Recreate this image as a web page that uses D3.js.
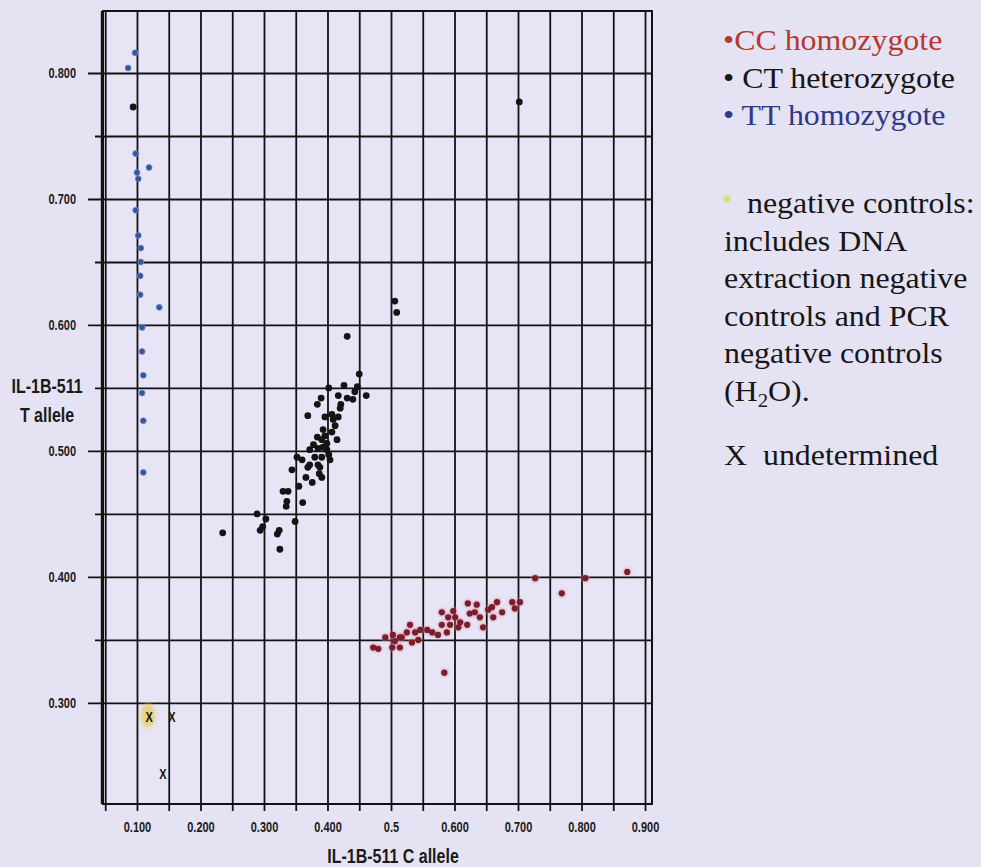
<!DOCTYPE html>
<html>
<head>
<meta charset="utf-8">
<script src="https://cdn.jsdelivr.net/npm/d3@7"></script>
<style>
  html, body { margin: 0; padding: 0; background: #e5e3f3; }
  svg { display: block; }
</style>
</head>
<body>
<svg id="chart" width="981" height="867"></svg>
<script>
// Allelic discrimination plot, IL-1B-511: C allele signal (x) vs T allele signal (y)

// CC homozygote wells
const ccX = [0.727, 0.806, 0.872, 0.769, 0.584, 0.472, 0.480, 0.491, 0.502, 0.503, 0.514, 0.517, 0.525, 0.530, 0.533, 0.538, 0.546, 0.557, 0.565, 0.574, 0.580, 0.580, 0.588, 0.590, 0.593, 0.601, 0.606, 0.609, 0.620, 0.621, 0.624, 0.632, 0.635, 0.640, 0.645, 0.653, 0.659, 0.661, 0.667, 0.675, 0.691, 0.695, 0.703, 0.543, 0.506, 0.598, 0.514];
const ccY = [0.399, 0.399, 0.404, 0.387, 0.324, 0.344, 0.343, 0.352, 0.344, 0.354, 0.344, 0.352, 0.356, 0.362, 0.348, 0.356, 0.358, 0.358, 0.356, 0.354, 0.362, 0.372, 0.356, 0.368, 0.362, 0.368, 0.360, 0.364, 0.362, 0.379, 0.371, 0.372, 0.378, 0.368, 0.360, 0.374, 0.376, 0.368, 0.380, 0.372, 0.380, 0.375, 0.380, 0.350, 0.349, 0.373, 0.352];

// CT heterozygote wells
const ctX = [0.094, 0.702, 0.506, 0.509, 0.431, 0.450, 0.402, 0.426, 0.447, 0.461, 0.417, 0.431, 0.440, 0.390, 0.384, 0.421, 0.420, 0.369, 0.407, 0.409, 0.417, 0.393, 0.407, 0.384, 0.391, 0.415, 0.399, 0.393, 0.385, 0.372, 0.399, 0.352, 0.360, 0.380, 0.391, 0.404, 0.372, 0.385, 0.388, 0.369, 0.344, 0.366, 0.376, 0.391, 0.355, 0.330, 0.338, 0.336, 0.335, 0.361, 0.289, 0.303, 0.349, 0.294, 0.298, 0.324, 0.321, 0.235, 0.325, 0.396, 0.402, 0.378, 0.387, 0.412, 0.396, 0.443];
const ctY = [0.773, 0.777, 0.619, 0.610, 0.591, 0.561, 0.550, 0.552, 0.551, 0.544, 0.544, 0.542, 0.541, 0.542, 0.537, 0.537, 0.534, 0.528, 0.529, 0.525, 0.527, 0.517, 0.515, 0.511, 0.509, 0.509, 0.506, 0.503, 0.502, 0.501, 0.501, 0.495, 0.493, 0.495, 0.495, 0.493, 0.489, 0.489, 0.487, 0.487, 0.485, 0.479, 0.475, 0.479, 0.472, 0.468, 0.468, 0.460, 0.456, 0.459, 0.450, 0.446, 0.444, 0.437, 0.440, 0.437, 0.434, 0.435, 0.422, 0.512, 0.497, 0.505, 0.482, 0.520, 0.527, 0.547];

// TT homozygote wells
const ttX = [0.097, 0.086, 0.098, 0.119, 0.100, 0.102, 0.098, 0.102, 0.106, 0.106, 0.105, 0.105, 0.135, 0.108, 0.108, 0.110, 0.108, 0.110, 0.110];
const ttY = [0.816, 0.804, 0.736, 0.725, 0.721, 0.716, 0.691, 0.671, 0.661, 0.650, 0.639, 0.624, 0.614, 0.598, 0.579, 0.560, 0.546, 0.524, 0.483];

// Undetermined wells; the first one is the highlighted negative control
const undetX = [0.119, 0.155, 0.141];
const undetY = [0.289, 0.289, 0.244];
const negativeControl = [0];

// Axes
const xGridValues = d3.range(17 + 1).map(i => +(0.05 + 0.05 * i).toFixed(2));
const xTickValues = [0.1, 0.2, 0.3, 0.4, 0.5, 0.6, 0.7, 0.8, 0.9];
const xTickLabels = ["0.100", "0.200", "0.300", "0.400", "0.5", "0.600", "0.700", "0.800", "0.900"];
const yTickValues = [0.3, 0.4, 0.5, 0.6, 0.7, 0.8];
const yMinorValues = [0.35, 0.45, 0.55, 0.65, 0.75];
const yTickLabels = ["0.300", "0.400", "0.500", "0.600", "0.700", "0.800"];
const xTitle = "IL-1B-511 C allele";
const yTitle = ["IL-1B-511", "T allele"];

// Legend text
const legendGenotypes = [
  { bullet: "•", label: "CC homozygote", color: "#b43a2f", gap: "" },
  { bullet: "•", label: "CT heterozygote", color: "#161616", gap: " " },
  { bullet: "•", label: "TT homozygote", color: "#2c3a8a", gap: " " }
];
const legendNotes = ["negative controls:", "includes DNA", "extraction negative", "controls and PCR", "negative controls"];
const legendUndetermined = "X  undetermined";

const svg = d3.select("#chart");
const frame = { left: 103, right: 652, top: 11, bottom: 804 };

const x = d3.scaleLinear().domain([0.0465, 0.911]).range([frame.left, frame.right]);
const y = d3.scaleLinear().domain([0.2198, 0.8492]).range([frame.bottom, frame.top]);

const defs = svg.append("defs");
defs.append("filter").attr("id", "soft").attr("x", "-100%").attr("y", "-100%").attr("width", "300%").attr("height", "300%")
  .append("feGaussianBlur").attr("stdDeviation", 2.2);
defs.append("filter").attr("id", "glow").attr("x", "-100%").attr("y", "-100%").attr("width", "300%").attr("height", "300%")
  .append("feGaussianBlur").attr("stdDeviation", 1.2);

// plot background
svg.append("rect")
  .attr("x", frame.left).attr("y", frame.top)
  .attr("width", frame.right - frame.left).attr("height", frame.bottom - frame.top)
  .attr("fill", "#e7e5f5");

const gridColor = "#121212";
const axisFont = "'Liberation Sans', Arial, Helvetica, sans-serif";

// vertical grid lines, running down past the frame as tick marks
const gx = svg.append("g")
  .attr("transform", `translate(0,${frame.bottom + 7})`)
  .call(d3.axisBottom(x).tickValues(xGridValues.filter(v => v <= 0.9001)).tickSize(-(frame.bottom + 7 - frame.top)).tickFormat(""));
gx.select(".domain").remove();
gx.selectAll("line").attr("stroke", gridColor).attr("stroke-width", 1.8);

// x tick labels
const gxl = svg.append("g")
  .attr("transform", `translate(0,${frame.bottom + 7})`)
  .call(d3.axisBottom(x).tickValues(xTickValues).tickSize(0).tickFormat((d, i) => xTickLabels[i]));
gxl.select(".domain").remove();
gxl.selectAll("text")
  .attr("y", 0).attr("dy", null)
  .attr("transform", "translate(0,21) scale(1,1.3)")
  .attr("font-family", axisFont).attr("font-size", 11).attr("font-weight", "bold")
  .attr("fill", "#1a1a1a");

// horizontal grid lines: labelled rows reach further out to the left
const gyMajor = svg.append("g")
  .attr("transform", `translate(88,0)`)
  .call(d3.axisLeft(y).tickValues(yTickValues).tickSize(-(frame.right - 88)).tickFormat(""));
gyMajor.select(".domain").remove();
gyMajor.selectAll("line").attr("stroke", gridColor).attr("stroke-width", 1.8);

const gyMinor = svg.append("g")
  .attr("transform", `translate(95,0)`)
  .call(d3.axisLeft(y).tickValues(yMinorValues).tickSize(-(frame.right - 95)).tickFormat(""));
gyMinor.select(".domain").remove();
gyMinor.selectAll("line").attr("stroke", gridColor).attr("stroke-width", 1.8);

// y tick labels
const gyl = svg.append("g")
  .attr("transform", `translate(76,0)`)
  .call(d3.axisLeft(y).tickValues(yTickValues).tickSize(0).tickPadding(0).tickFormat((d, i) => yTickLabels[i]));
gyl.select(".domain").remove();
gyl.selectAll("text")
  .attr("x", 0).attr("dy", null).attr("y", 0)
  .attr("transform", "translate(0,4.5) scale(1,1.3)")
  .attr("text-anchor", "end")
  .attr("font-family", axisFont).attr("font-size", 11).attr("font-weight", "bold")
  .attr("fill", "#1a1a1a");

// frame
svg.append("rect")
  .attr("x", frame.left).attr("y", frame.top)
  .attr("width", frame.right - frame.left).attr("height", frame.bottom - frame.top)
  .attr("fill", "none").attr("stroke", gridColor).attr("stroke-width", 2);
svg.append("line")
  .attr("x1", frame.left - 1.5).attr("x2", frame.left - 1.5)
  .attr("y1", frame.top).attr("y2", frame.bottom)
  .attr("stroke", gridColor).attr("stroke-width", 1.4);

// axis titles
svg.append("text")
  .attr("transform", `translate(${(x(0.1) + x(0.9)) / 2 + 2},863) scale(1,1.3)`)
  .attr("text-anchor", "middle")
  .attr("font-family", axisFont).attr("font-size", 16).attr("font-weight", "bold")
  .attr("fill", "#1a1a1a")
  .text(xTitle);

svg.selectAll("text.ytitle")
  .data(yTitle)
  .join("text")
  .attr("class", "ytitle")
  .attr("transform", (d, i) => `translate(47,${393 + i * 29}) scale(1,1.3)`)
  .attr("text-anchor", "middle")
  .attr("font-family", axisFont).attr("font-size", 16).attr("font-weight", "bold")
  .attr("fill", "#1a1a1a")
  .text(d => d);

// negative control highlight
svg.selectAll("ellipse.neg")
  .data(negativeControl)
  .join("ellipse")
  .attr("class", "neg")
  .attr("cx", i => x(undetX[i]) - 1)
  .attr("cy", i => y(undetY[i]) - 1)
  .attr("rx", 7).attr("ry", 12)
  .attr("fill", "#e6cf62").attr("opacity", 0.85)
  .attr("filter", "url(#soft)");

// points
const pts = svg.append("g");

// pale halo behind the CC wells
pts.selectAll("circle.cchalo")
  .data(d3.range(ccX.length))
  .join("circle").attr("class", "cchalo")
  .attr("cx", i => x(ccX[i])).attr("cy", i => y(ccY[i]))
  .attr("r", 4.2)
  .attr("fill", "#d88a9a").attr("opacity", 0.55)
  .attr("filter", "url(#glow)");

pts.selectAll("circle.tt")
  .data(d3.range(ttX.length))
  .join("circle").attr("class", "tt")
  .attr("cx", i => x(ttX[i])).attr("cy", i => y(ttY[i]))
  .attr("r", 3)
  .attr("fill", "#35549a").attr("stroke", "#7390c6").attr("stroke-width", 0.8);

pts.selectAll("circle.cc")
  .data(d3.range(ccX.length))
  .join("circle").attr("class", "cc")
  .attr("cx", i => x(ccX[i])).attr("cy", i => y(ccY[i]))
  .attr("r", 3.1)
  .attr("fill", "#7a1d2c");

pts.selectAll("circle.ct")
  .data(d3.range(ctX.length))
  .join("circle").attr("class", "ct")
  .attr("cx", i => x(ctX[i])).attr("cy", i => y(ctY[i]))
  .attr("r", 3.4)
  .attr("fill", "#141414");

pts.selectAll("text.undet")
  .data(d3.range(undetX.length))
  .join("text").attr("class", "undet")
  .attr("transform", i => `translate(${x(undetX[i])},${y(undetY[i]) + 5}) scale(1,1.3)`)
  .attr("text-anchor", "middle")
  .attr("font-family", axisFont).attr("font-size", 11).attr("font-weight", "bold")
  .attr("fill", "#151515")
  .text("X");

// legend
const serif = "'Liberation Serif', 'Times New Roman', Times, serif";
const legend = svg.append("g");
const lineStep = 37.5;
const stretch = "scale(1.1,1)";

legend.selectAll("text.geno")
  .data(legendGenotypes)
  .join("text").attr("class", "geno")
  .attr("transform", (d, i) => `translate(723,${50 + i * lineStep}) ${stretch}`)
  .attr("font-family", serif).attr("font-size", 29)
  .attr("fill", d => d.color)
  .text(d => d.bullet + d.gap + d.label);

legend.append("circle")
  .attr("cx", 727).attr("cy", 199).attr("r", 3.6)
  .attr("fill", "#d4dc5a").attr("opacity", 0.9)
  .attr("filter", "url(#glow)");

legend.selectAll("text.note")
  .data(legendNotes)
  .join("text").attr("class", "note")
  .attr("transform", (d, i) => `translate(${i === 0 ? 747 : 724},${213 + i * lineStep}) ${stretch}`)
  .attr("font-family", serif).attr("font-size", 29)
  .attr("fill", "#161616")
  .text(d => d);

const h2o = legend.append("text")
  .attr("transform", `translate(724,${213 + 5 * lineStep}) ${stretch}`)
  .attr("font-family", serif).attr("font-size", 29)
  .attr("fill", "#161616");
h2o.append("tspan").text("(H");
h2o.append("tspan").attr("font-size", 19).attr("dy", 6).text("2");
h2o.append("tspan").attr("dy", -6).text("O).");

legend.append("text")
  .attr("transform", `translate(724,465) ${stretch}`)
  .attr("font-family", serif).attr("font-size", 29)
  .attr("fill", "#161616")
  .attr("xml:space", "preserve")
  .style("white-space", "pre")
  .text(legendUndetermined);
</script>
</body>
</html>
